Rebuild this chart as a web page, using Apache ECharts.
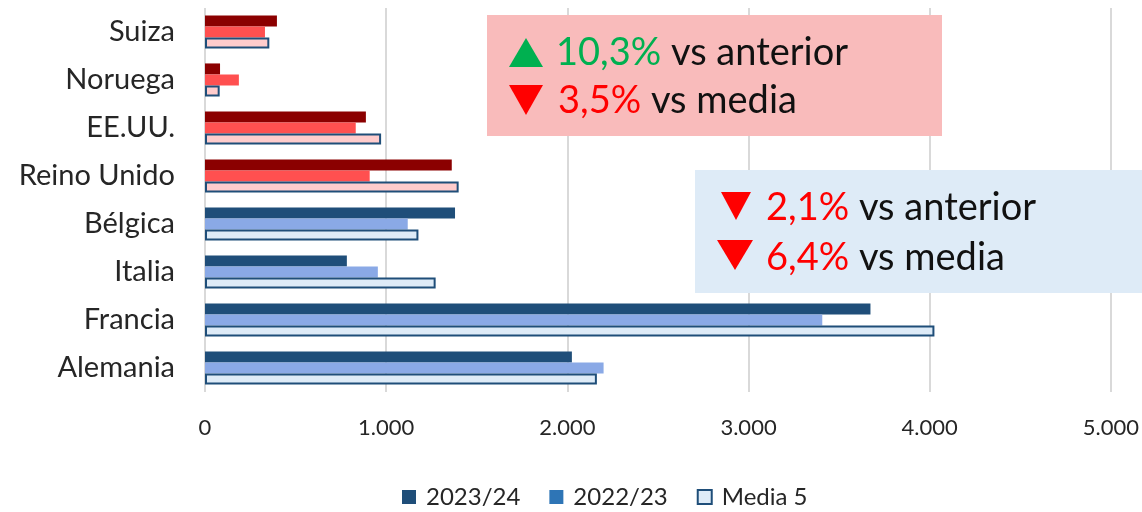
<!DOCTYPE html>
<html>
<head>
<meta charset="utf-8">
<script src="https://cdn.jsdelivr.net/npm/echarts@6/dist/echarts.min.js"></script>
<style>
  html, body { margin: 0; padding: 0; background: #fff; }
  #chart { width: 1142px; height: 512px; }
</style>
</head>
<body>
<div id="chart"></div>
<script>
// categorias de arriba a abajo
const paises = ["Suiza", "Noruega", "EE.UU.", "Reino Unido", "Bélgica", "Italia", "Francia", "Alemania"];
const temporada2324 = [397, 83, 888, 1362, 1380, 783, 3673, 2025];
const temporada2223 = [331, 187, 832, 909, 1119, 954, 3407, 2200];
const media5 = [355, 81, 972, 1400, 1178, 1273, 4026, 2163];
// los 4 primeros van en rojo
const enRojo = ["Suiza", "Noruega", "EE.UU.", "Reino Unido"];

const FONT = "Lato";
const VERDE = "#00B050";
const ROJO = "#FF0000";

function miles(v) {
  return String(v).replace(/\B(?=(\d{3})+(?!\d))/g, ".");
}

function serie(nombre, valores, azul, rojo, borde) {
  return {
    name: nombre,
    type: "bar",
    barGap: "0%",
    barCategoryGap: "31%",
    data: valores.map((v, i) => ({
      value: v,
      itemStyle: {
        color: enRojo.includes(paises[i]) ? rojo : azul,
        borderColor: borde ? "#1F4E79" : null,
        borderWidth: borde ? 2 : 0,
      },
    })),
  };
}

// triangulo arriba / abajo
function triangulo(x, y, w, h, arriba, color) {
  var pts = arriba
    ? [[x, y + h], [x + w / 2, y], [x + w, y + h]]
    : [[x, y], [x + w, y], [x + w / 2, y + h]];
  return { type: "polygon", shape: { points: pts }, style: { fill: color }, z: 11 };
}

function linea(x, base, trozos) {
  return {
    type: "text",
    x: x,
    y: base,
    z: 11,
    style: {
      text: trozos.map((t) => "{" + t[0] + "|" + t[1] + "}").join(""),
      verticalAlign: "bottom",
      rich: {
        g: { fill: VERDE, fontSize: 38, fontFamily: FONT },
        r: { fill: ROJO, fontSize: 38, fontFamily: FONT },
        n: { fill: "#111111", fontSize: 38, fontFamily: FONT },
      },
    },
  };
}

var chart = echarts.init(document.getElementById("chart"));
var option = {
  animation: false,
  grid: { left: 205, right: 30, top: 8, bottom: 120 },
  xAxis: {
    type: "value",
    min: 0,
    max: 5000,
    interval: 1000,
    axisLine: { show: false },
    axisTick: { show: false },
    splitLine: { lineStyle: { color: "#D9D9D9", width: 2 } },
    axisLabel: {
      formatter: miles,
      color: "#262626",
      fontFamily: FONT,
      fontSize: 22,
      margin: 25,
    },
  },
  yAxis: {
    type: "category",
    inverse: true,
    data: paises,
    axisLine: { show: false },
    axisTick: { show: false },
    axisLabel: {
      color: "#262626",
      fontFamily: FONT,
      fontSize: 29,
      margin: 30,
    },
  },
  legend: {
    left: 402,
    top: 485,
    padding: 0,
    itemWidth: 14,
    itemHeight: 14,
    itemGap: 29,
    textStyle: { fontFamily: FONT, fontSize: 24, color: "#262626", padding: [0, 0, 0, 5] },
    data: [
      { name: "2023/24", icon: "rect", itemStyle: { color: "#1F4E79", borderWidth: 0 } },
      { name: "2022/23", icon: "rect", itemStyle: { color: "#2E75B6", borderWidth: 0 } },
      { name: "Media 5", icon: "rect", itemStyle: { color: "#DEEBF7", borderColor: "#1F4E79", borderWidth: 2 } },
    ],
  },
  series: [
    serie("2023/24", temporada2324, "#1F4E79", "#8B0000", false),
    serie("2022/23", temporada2223, "#8AA9E6", "#FF5050", false),
    serie("Media 5", media5, "#DEEBF7", "#FFCCCC", true),
  ],
  graphic: [
    { type: "rect", shape: { x: 487, y: 15, width: 455, height: 121 }, style: { fill: "#F9BBBB" }, z: 10 },
    triangulo(509, 38, 34, 29, true, VERDE),
    linea(556, 72, [["g", "10,3%"], ["n", " vs anterior"]]),
    triangulo(509, 85, 34, 30, false, ROJO),
    linea(558, 120, [["r", "3,5%"], ["n", " vs media"]]),

    { type: "rect", shape: { x: 695, y: 170, width: 447, height: 123 }, style: { fill: "#DEEBF7" }, z: 10 },
    triangulo(721, 192, 30, 28, false, ROJO),
    linea(766, 227, [["r", "2,1%"], ["n", " vs anterior"]]),
    triangulo(717, 240, 36, 30, false, ROJO),
    linea(766, 277, [["r", "6,4%"], ["n", " vs media"]]),
  ],
};
chart.setOption(option);
</script>
</body>
</html>
